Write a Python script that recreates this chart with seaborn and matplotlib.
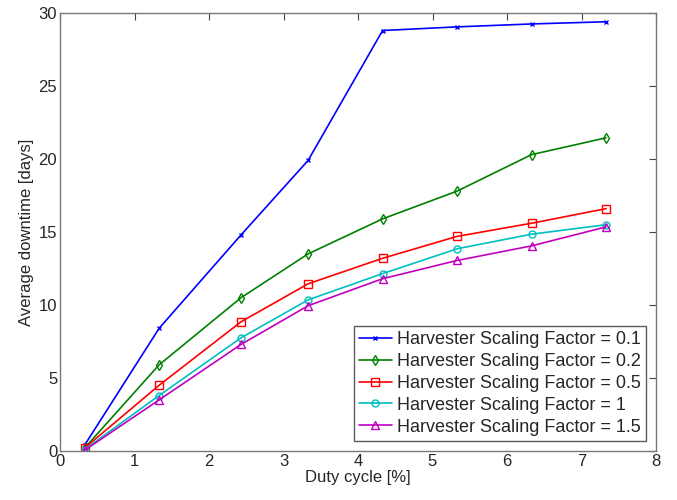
import seaborn as sns
import matplotlib.pyplot as plt
import pandas as pd
import numpy as np

# data
duty_cycle = [0.33, 1.33, 2.43, 3.33, 4.33, 5.33, 6.33, 7.33]
sf_01 = [0.4, 8.4, 14.8, 19.9, 28.8, 29.05, 29.25, 29.4]
sf_02 = [0.2, 5.9, 10.5, 13.5, 15.9, 17.8, 20.3, 21.45]
sf_05 = [0.2, 4.5, 8.85, 11.45, 13.2, 14.7, 15.6, 16.6]
sf_1 = [0.1, 3.8, 7.75, 10.35, 12.15, 13.85, 14.85, 15.5]
sf_15 = [0.05, 3.5, 7.3, 9.95, 11.8, 13.05, 14.05, 15.35]
labels = ['Harvester Scaling Factor = 0.1', 'Harvester Scaling Factor = 0.2',
          'Harvester Scaling Factor = 0.5', 'Harvester Scaling Factor = 1',
          'Harvester Scaling Factor = 1.5']

series = [sf_01, sf_02, sf_05, sf_1, sf_15]
colors = ['#0000ff', '#008000', '#ff0000', '#00bfbf', '#bf00bf']
markers = ['x', 'd', 's', 'o', '^']
msizes = [3.5, 5, 6, 5, 6]

sns.set_style('white')
plt.rcParams['font.family'] = ['Liberation Sans', 'DejaVu Sans']

fig = plt.figure(figsize=(6.77, 5), dpi=100)
ax = fig.add_axes([60 / 677, 49 / 500, 596 / 677, 438 / 500])

for vals, lab, c, m, ms in zip(series, labels, colors, markers, msizes):
    df = pd.DataFrame({'x': duty_cycle, 'y': vals})
    sns.lineplot(data=df, x='x', y='y', ax=ax, color=c, marker=m, markersize=ms,
                 markerfacecolor='none', markeredgecolor=c, markeredgewidth=1,
                 linewidth=1.2, label=lab)

ax.set_xlim(0, 8)
ax.set_ylim(0, 30)
ax.set_xticks(range(0, 9))
ax.set_yticks(range(0, 31, 5))
ax.set_xlabel('Duty cycle [%]', fontsize=12, labelpad=1)
ax.set_ylabel('Average downtime [days]', fontsize=12, labelpad=3)
ax.tick_params(direction='in', top=True, right=True, length=5, labelsize=12,
               color='#444444', pad=2)
for s in ax.spines.values():
    s.set_color('#777777')
    s.set_linewidth(1)

leg = ax.legend(loc='lower right', fontsize=13, frameon=True, fancybox=False,
                borderaxespad=0.55, handlelength=1.8, handletextpad=0.28,
                labelspacing=0.27, borderpad=0.3)
leg.get_frame().set_edgecolor('#333333')
leg.get_frame().set_linewidth(1)

fig.savefig('out.png', dpi=100)
